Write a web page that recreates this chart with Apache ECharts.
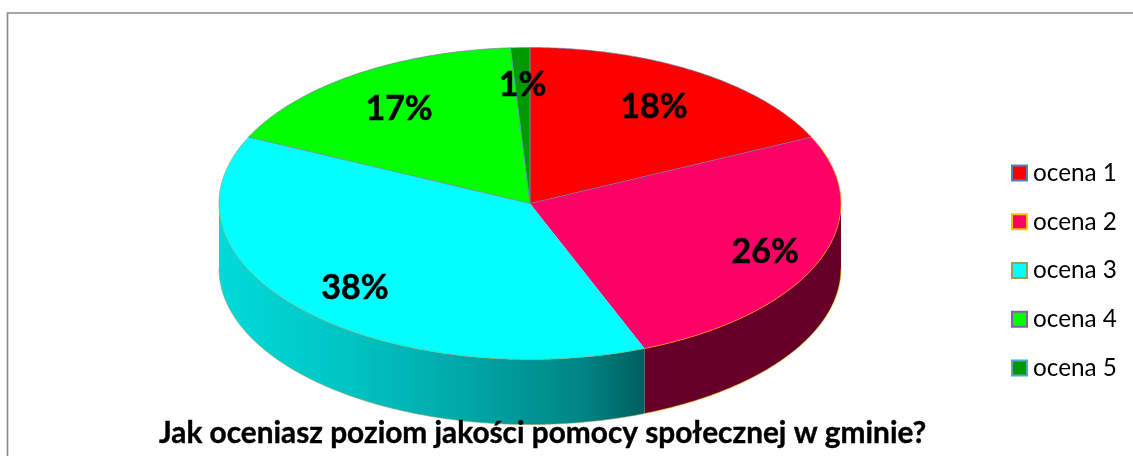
<!DOCTYPE html>
<html><head><meta charset="utf-8">
<style>html,body{margin:0;padding:0;background:#fff}#c{width:1133px;height:456px}</style>
<script src="https://cdn.jsdelivr.net/npm/echarts@6/dist/echarts.min.js"></script>
</head><body><div id="c"></div>
<script>
const categories = ['ocena 1','ocena 2','ocena 3','ocena 4','ocena 5'];
const values = [18,26,38,17,1];
const topColors = ['#FF0000','#FF0066','#00FFFF','#00FF00','#009900'];
const edgeColors = ['#4F81BD','#FFC000','#8FA35A','#8064A2','#4BACC6'];
const titleText = 'Jak oceniasz poziom jakości pomocy społecznej w gminie?';

const FONT = 'Lato, Carlito, Calibri, sans-serif';
const CX = 530, CY = 203.5, RX = 311, RY = 156, DEPTH = 65;
const labelRadii = [0.744,0.813,0.772,0.749,0.77];
const radialEdges = [true,false,false,true,true];
const total = values.reduce((a,b)=>a+b,0);
const pt = (deg, dy=0, k=1) => {
  const a = deg*Math.PI/180;
  return [CX+RX*k*Math.sin(a), CY-RY*k*Math.cos(a)+dy];
};
const arc = (a0,a1,dy=0) => {
  const out=[], n=Math.max(2,Math.ceil(Math.abs(a1-a0)*2));
  for(let i=0;i<=n;i++) out.push(pt(a0+(a1-a0)*i/n,dy));
  return out;
};
const wallFill = [
  null,
  '#660029',
  new echarts.graphic.LinearGradient(219,0,645,0,[
    {offset:0,color:'#00DADA'},{offset:0.3,color:'#00C4C4'},{offset:0.6,color:'#00A5A5'},{offset:0.85,color:'#008585'},{offset:1,color:'#005E5E'}
  ],true),
  null,null
];
function render(i){
  return function(){
    const start = values.slice(0,i).reduce((a,b)=>a+b,0)/total*360;
    const end = start+values[i]/total*360;
    const children=[];
    const w0=Math.max(start,90), w1=Math.min(end,270);
    if(w1>w0){
      children.push({type:'polygon',z2:1,
        shape:{points:arc(w0,w1).concat(arc(w1,w0,DEPTH))},
        style:{fill:wallFill[i]||topColors[i]}});
      children.push({type:'polyline',z2:1,
        shape:{points:arc(w0,w1,DEPTH)},
        style:{fill:null,stroke:edgeColors[i],lineWidth:0.6}});
    }
    children.push({type:'polygon',z2:2,
      shape:{points:[[CX,CY]].concat(arc(start,end))},
      style:{fill:topColors[i]}});
    const rim = arc(start,end);
    children.push({type:'polyline',z2:3,
      shape:{points:radialEdges[i]?[rim[0],[CX,CY],rim[rim.length-1]]:rim},
      style:{fill:null,stroke:edgeColors[i],lineWidth:0.6}});
    if(radialEdges[i]) children.push({type:'polyline',z2:3,
      shape:{points:rim},style:{fill:null,stroke:edgeColors[i],lineWidth:0.6}});
    const p=pt((start+end)/2,2,labelRadii[i]);
    children.push({type:'text',z2:5,x:p[0],y:p[1],
      style:{text:Math.round(values[i]/total*100)+'%',fill:'#000',
        font:'bold 34px '+FONT,align:'center',verticalAlign:'middle',
        stroke:'#000',lineWidth:0.5}});
    return {type:'group',children};
  };
}
const chart = echarts.init(document.getElementById('c'),null,{renderer:'canvas'});
chart.setOption({
  animation:false,
  backgroundColor:'#fff',
  title:{text:titleText,left:159,top:415,padding:0,
    textStyle:{fontFamily:FONT,fontWeight:'bold',fontSize:29.8,color:'#000',lineHeight:36,
      textBorderColor:'#000',textBorderWidth:0.4}},
  legend:{orient:'vertical',left:1011,top:161,padding:0,itemWidth:15,itemHeight:15,itemGap:24.75,icon:'rect',
    selectedMode:false,
    textStyle:{fontFamily:FONT,fontSize:24.3,color:'#000',padding:[0,0,0,1]},
    data:categories.map((n,i)=>({name:n,itemStyle:{color:topColors[i],borderColor:edgeColors[i],borderWidth:2}}))},
  graphic:[{type:'polyline',silent:true,z:0,
    shape:{points:[[7.5,456],[7.5,13],[1133,13]]},
    style:{fill:null,stroke:'#8A8A8A',lineWidth:1.6}}],
  series:categories.map((n,i)=>({
    type:'custom',name:n,coordinateSystem:'none',silent:true,z:2,
    itemStyle:{color:topColors[i]},
    data:[[values[i]]],renderItem:render(i)
  }))
});
</script></body></html>
